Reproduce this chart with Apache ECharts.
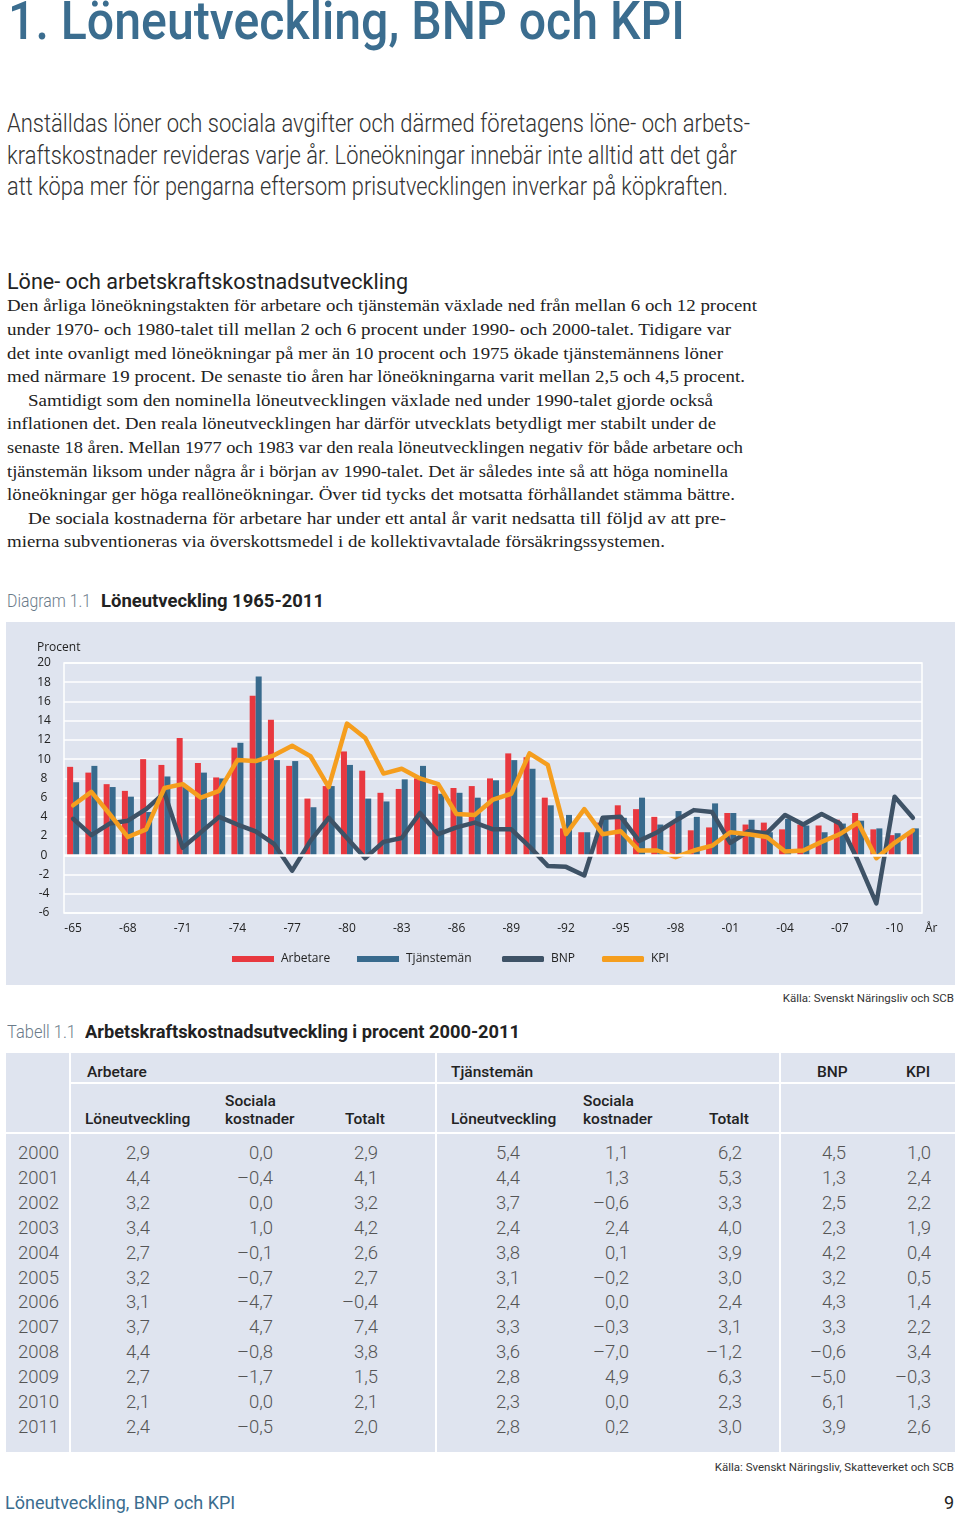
<!DOCTYPE html>
<html><head><meta charset="utf-8">
<script src="https://cdn.jsdelivr.net/npm/echarts@6/dist/echarts.min.js"></script>
<style>
html,body{margin:0;padding:0;background:#fff;}
#page{position:relative;width:960px;height:1520px;overflow:hidden;font-family:Roboto,"Open Sans",sans-serif;}
.t{position:absolute;white-space:nowrap;transform-origin:0 0;}
.r{position:absolute;white-space:nowrap;text-align:right;}
.serif{font-family:"Liberation Serif","DejaVu Serif",serif;color:#222;font-size:17.5px;line-height:17.5px;}
.panel{position:absolute;background:#dfe4ef;}
.wl{position:absolute;background:#fff;}
</style></head><body><div id="page">

<div class="t fit" data-w="677" style="left:8px;top:-5px;font-size:53px;line-height:53px;font-weight:500;color:#3b6d8f;">1. Löneutveckling, BNP och KPI</div>

<div class="t fit" data-w="743" style="left:7px;top:111px;font-size:25px;line-height:25px;font-weight:300;color:#333;">Anställdas löner och sociala avgifter och därmed företagens löne- och arbets-</div>
<div class="t fit" data-w="730" style="left:7px;top:142.5px;font-size:25px;line-height:25px;font-weight:300;color:#333;">kraftskostnader revideras varje år. Löneökningar innebär inte alltid att det går</div>
<div class="t fit" data-w="721" style="left:7px;top:174px;font-size:25px;line-height:25px;font-weight:300;color:#333;">att köpa mer för pengarna eftersom prisutvecklingen inverkar på köpkraften.</div>

<div class="t fit" data-w="401" style="left:7px;top:271px;font-size:22px;line-height:22px;font-weight:400;color:#222;">Löne- och arbetskraftskostnadsutveckling</div>

<div id="body"></div>

<div class="t fit" data-w="84" style="left:7px;top:592px;font-size:18px;line-height:18px;font-weight:300;color:#6b7b8a;">Diagram 1.1</div>
<div class="t fit" data-w="223" style="left:101px;top:592px;font-size:18px;line-height:18px;font-weight:700;color:#222;">Löneutveckling 1965-2011</div>

<div id="chart" style="position:absolute;left:6px;top:622px;width:949px;height:363px;"></div>

<div class="r" style="right:6px;top:992px;font-size:11.5px;line-height:12px;color:#333;">Källa: Svenskt Näringsliv och SCB</div>

<div class="t fit" data-w="69" style="left:7px;top:1023px;font-size:18px;line-height:18px;font-weight:300;color:#6b7b8a;">Tabell 1.1</div>
<div class="t fit" data-w="435" style="left:85px;top:1023px;font-size:18px;line-height:18px;font-weight:700;color:#222;">Arbetskraftskostnadsutveckling i procent 2000-2011</div>

<div class="panel" style="left:6px;top:1053px;width:949px;height:399px;"></div>
<div class="wl" style="left:69px;top:1053px;width:2px;height:399px;"></div>
<div class="wl" style="left:435px;top:1053px;width:2px;height:399px;"></div>
<div class="wl" style="left:779px;top:1053px;width:2px;height:399px;"></div>
<div class="wl" style="left:71px;top:1082px;width:884px;height:2px;"></div>
<div class="wl" style="left:6px;top:1132px;width:949px;height:2px;"></div>
<div id="table"></div>

<div class="r" style="right:6px;top:1461px;font-size:11.5px;line-height:12px;color:#333;">Källa: Svenskt Näringsliv, Skatteverket och SCB</div>

<div class="t" style="left:5px;top:1494px;font-size:18px;line-height:18px;color:#3b6d8f;">Löneutveckling, BNP och KPI</div>
<div class="r" style="right:6px;top:1494px;font-size:18px;line-height:18px;color:#222;">9</div>
</div>

<script>
// ---------- chart data (1965-2011) ----------
const years = ['1965','1966','1967','1968','1969','1970','1971','1972','1973','1974',
  '1975','1976','1977','1978','1979','1980','1981','1982','1983','1984',
  '1985','1986','1987','1988','1989','1990','1991','1992','1993','1994',
  '1995','1996','1997','1998','1999','2000','2001','2002','2003','2004',
  '2005','2006','2007','2008','2009','2010','2011'];
const arbetare = [9.2,8.6,7.4,6.7,10.0,9.4,12.2,9.6,8.1,11.2,
  16.6,14.1,9.3,5.9,7.2,10.8,8.8,6.5,6.9,8.0,
  7.2,7.0,7.2,8.0,10.6,10.2,6.0,2.8,2.4,3.4,
  5.2,4.8,4.0,3.4,2.6,2.9,4.4,3.2,3.4,2.7,
  3.2,3.1,3.7,4.4,2.7,2.1,2.4];
const tjansteman = [7.6,9.3,7.1,6.1,4.5,8.2,7.2,8.6,8.0,11.7,
  18.6,9.9,9.8,5.0,7.2,9.4,5.9,5.6,7.9,9.3,
  6.4,6.5,6.0,7.8,9.9,9.0,5.2,4.2,2.4,4.1,
  3.9,6.0,3.2,4.6,4.0,5.4,4.4,3.7,2.4,3.8,
  3.1,2.4,3.3,3.6,2.8,2.3,2.8];
const bnp = [3.8,2.1,3.3,3.6,4.8,6.5,0.8,2.4,4.0,3.2,
  2.5,1.2,-1.6,1.5,3.9,1.8,-0.3,1.4,1.8,4.4,
  2.2,2.9,3.4,2.7,2.7,0.9,-1.1,-1.2,-2.1,3.9,
  4.0,1.5,2.4,3.6,4.7,4.5,1.3,2.5,2.3,4.2,
  3.2,4.3,3.3,-0.6,-5.0,6.1,3.9];
const kpi = [5.2,6.6,4.3,1.9,2.7,7.0,7.4,6.0,6.7,9.9,
  9.8,10.4,11.4,10.3,7.1,13.7,12.2,8.5,9.0,8.0,
  7.4,4.3,4.2,5.8,6.4,10.6,9.4,2.2,4.8,2.2,
  2.5,0.5,0.5,-0.2,0.5,1.0,2.4,2.2,1.9,0.4,
  0.5,1.4,2.2,3.4,-0.3,1.3,2.6];
const yTicks = {min:-6, max:20, step:2};

// ---------- table data (2000-2011) ----------
const tabYears = ['2000','2001','2002','2003','2004','2005','2006','2007','2008','2009','2010','2011'];
const arbLon = [2.9,4.4,3.2,3.4,2.7,3.2,3.1,3.7,4.4,2.7,2.1,2.4];
const arbSoc = [0.0,-0.4,0.0,1.0,-0.1,-0.7,-4.7,4.7,-0.8,-1.7,0.0,-0.5];
const arbTot = [2.9,4.1,3.2,4.2,2.6,2.7,-0.4,7.4,3.8,1.5,2.1,2.0];
const tjLon = [5.4,4.4,3.7,2.4,3.8,3.1,2.4,3.3,3.6,2.8,2.3,2.8];
const tjSoc = [1.1,1.3,-0.6,2.4,0.1,-0.2,0.0,-0.3,-7.0,4.9,0.0,0.2];
const tjTot = [6.2,5.3,3.3,4.0,3.9,3.0,2.4,3.1,-1.2,6.3,2.3,3.0];
const bnpTab = [4.5,1.3,2.5,2.3,4.2,3.2,4.3,3.3,-0.6,-5.0,6.1,3.9];
const kpiTab = [1.0,2.4,2.2,1.9,0.4,0.5,1.4,2.2,3.4,-0.3,1.3,2.6];

// ---------- body text lines ----------
const bodyLines = [
 'Den årliga löneökningstakten för arbetare och tjänstemän växlade ned från mellan 6 och 12 procent',
 'under 1970- och 1980-talet till mellan 2 och 6 procent under 1990- och 2000-talet. Tidigare var',
 'det inte ovanligt med löneökningar på mer än 10 procent och 1975 ökade tjänstemännens löner',
 'med närmare 19 procent. De senaste tio åren har löneökningarna varit mellan 2,5 och 4,5 procent.',
 'Samtidigt som den nominella löneutvecklingen växlade ned under 1990-talet gjorde också',
 'inflationen det. Den reala löneutvecklingen har därför utvecklats betydligt mer stabilt under de',
 'senaste 18 åren. Mellan 1977 och 1983 var den reala löneutvecklingen negativ för både arbetare och',
 'tjänstemän liksom under några år i början av 1990-talet. Det är således inte så att höga nominella',
 'löneökningar ger höga reallöneökningar. Över tid tycks det motsatta förhållandet stämma bättre.',
 'De sociala kostnaderna för arbetare har under ett antal år varit nedsatta till följd av att pre-',
 'mierna subventioneras via överskottsmedel i de kollektivavtalade försäkringssystemen.'
];
const indented = [4, 9];
const lineEnds = [757, 731, 723, 745, 713, 716, 743, 728, 735, 726, 665];

// build body text
const bodyDiv = document.getElementById('body');
bodyLines.forEach((s, i) => {
  const d = document.createElement('div');
  d.className = 't serif';
  const x0 = indented.includes(i) ? 28 : 7;
  d.style.left = x0 + 'px';
  d.style.top = (306 + i * 23.6 - 8.7) + 'px';
  d.textContent = s;
  bodyDiv.appendChild(d);
  const w = d.getBoundingClientRect().width;
  d.style.transform = 'scaleX(' + ((lineEnds[i] - x0) / w) + ')';
});

// fit headings
document.querySelectorAll('.fit').forEach(el => {
  const w = el.getBoundingClientRect().width;
  const target = parseFloat(el.dataset.w);
  if (w > 0) el.style.transform = 'scaleX(' + (target / w) + ')';
});

// ---------- table ----------
const tab = document.getElementById('table');
function addText(txt, opts) {
  const d = document.createElement('div');
  d.className = opts.right !== undefined ? 'r' : 't';
  if (opts.right !== undefined) d.style.right = (960 - opts.right) + 'px';
  else d.style.left = opts.left + 'px';
  d.style.top = opts.top + 'px';
  d.style.fontSize = opts.size + 'px';
  d.style.lineHeight = opts.size + 'px';
  d.style.fontWeight = opts.weight || 400;
  d.style.color = opts.color || '#222';
  d.textContent = txt;
  tab.appendChild(d);
  return d;
}
const hs = 15.5, hw = 500;
function hdr(txt, x, yc) { return addText(txt, {left: x, top: yc - hs * 0.55 + 3, size: hs, weight: hw, color: '#222'}); }
hdr('Arbetare', 87, 1071); hdr('Tjänstemän', 451, 1071); hdr('BNP', 817, 1071); hdr('KPI', 906, 1071);
hdr('Löneutveckling', 85, 1118); hdr('Sociala', 225, 1100); hdr('kostnader', 225, 1118); hdr('Totalt', 345, 1118);
hdr('Löneutveckling', 451, 1118); hdr('Sociala', 583, 1100); hdr('kostnader', 583, 1118); hdr('Totalt', 709, 1118);
const fmt = v => v.toFixed(1).replace('.', ',').replace('-', '–');
const cols = [[arbLon,150],[arbSoc,273],[arbTot,378],[tjLon,520],[tjSoc,629],[tjTot,742],[bnpTab,846],[kpiTab,931]];
const ns = 18.5;
tabYears.forEach((y, i) => {
  const yc = 1153.5 + i * 24.85;
  addText(y, {left: 18, top: yc - ns * 0.5, size: ns, weight: 300, color: '#555'});
  cols.forEach(([arr, rx]) => addText(fmt(arr[i]), {right: rx, top: yc - ns * 0.5, size: ns, weight: 300, color: '#555'}));
});

// ---------- chart ----------
const chart = echarts.init(document.getElementById('chart'), null, {renderer: 'canvas'});
const txt = {color: '#222', fontSize: 12, fontFamily: 'Open Sans'};
function lg(name, icon, left) {
  return {data: [{name: name, icon: icon}], left: left, top: 326, itemWidth: 42, itemHeight: 6,
    textStyle: Object.assign({}, txt, {padding: [0, 0, 0, 2]}), selectedMode: false};
}
chart.setOption({
  animation: false,
  backgroundColor: '#dfe4ef',
  textStyle: {fontFamily: 'Open Sans'},
  grid: {left: 58, right: 33, top: 41, bottom: 72, show: true, borderColor: '#ffffff', borderWidth: 1.5, backgroundColor: 'transparent'},
  legend: [lg('Arbetare', 'rect', 221), lg('Tjänstemän', 'rect', 346), lg('BNP', 'roundRect', 491), lg('KPI', 'roundRect', 591)],
  xAxis: {
    type: 'category', data: years, boundaryGap: true,
    axisLine: {show: false, onZero: false}, axisTick: {show: false},
    axisLabel: Object.assign({}, txt, {interval: 2, margin: 10, formatter: v => '-' + v.slice(2)}),
    splitLine: {show: false},
    name: 'År', nameLocation: 'end', nameGap: 3,
    nameTextStyle: Object.assign({}, txt, {verticalAlign: 'top', padding: [10, 0, 0, 0]})
  },
  yAxis: {
    type: 'value', min: yTicks.min, max: yTicks.max, interval: yTicks.step,
    axisLine: {show: false}, axisTick: {show: false},
    axisLabel: Object.assign({}, txt, {align: 'center', margin: 20}),
    splitLine: {lineStyle: {color: '#ffffff', width: 1.5}}
  },
  graphic: [{type: 'text', left: 31, top: 20, style: {text: 'Procent', fill: '#222', font: '12px "Open Sans"'}}],
  series: [
    {name: 'Arbetare', type: 'bar', data: arbetare, barWidth: 6, barGap: '0%', itemStyle: {color: '#e8383f'},
     markLine: {silent: true, symbol: 'none', label: {show: false}, lineStyle: {color: '#ffffff', width: 2.5, type: 'solid'}, data: [{yAxis: 0}]}},
    {name: 'Tjänstemän', type: 'bar', data: tjansteman, barWidth: 6, barGap: '0%', itemStyle: {color: '#386a8d'}},
    {name: 'BNP', type: 'line', data: bnp, showSymbol: false, symbol: 'none', itemStyle: {color: '#3e5266'},
     lineStyle: {color: '#3e5266', width: 4.5, join: 'round', cap: 'round'}, z: 3},
    {name: 'KPI', type: 'line', data: kpi, showSymbol: false, symbol: 'none', itemStyle: {color: '#f59e1e'},
     lineStyle: {color: '#f59e1e', width: 4.5, join: 'round', cap: 'round'}, z: 4}
  ]
});
</script>
</body></html>
